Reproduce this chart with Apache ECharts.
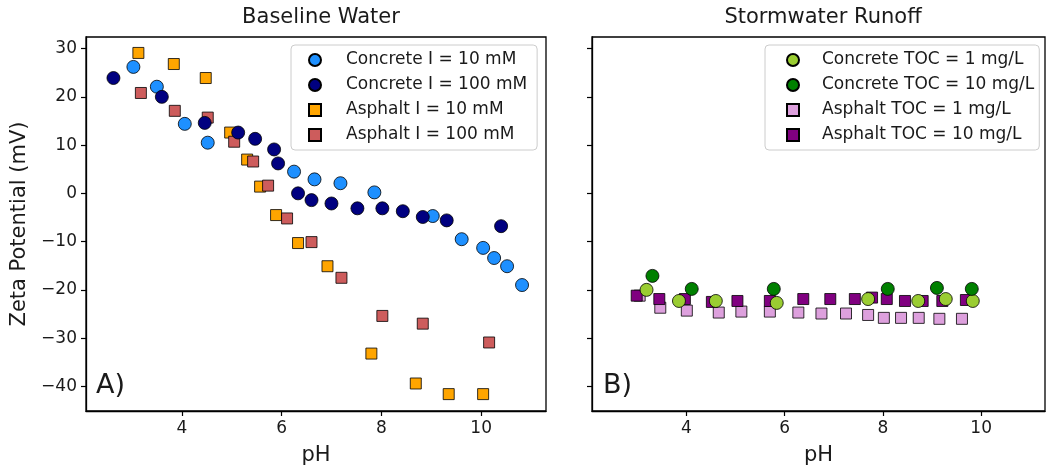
<!DOCTYPE html>
<html>
<head>
<meta charset="utf-8">
<script src="https://cdn.jsdelivr.net/npm/echarts@6/dist/echarts.min.js"></script>
<style>
  html, body { margin: 0; padding: 0; background: #fff; }
  #chart { width: 1047px; height: 471px; }
</style>
</head>
<body>
<div id="chart"></div>
<script>
  // panel A - baseline water, [pH, zeta mV]
  const concreteI10 = [[3.03,26.2],[3.50,22.1],[4.06,14.4],[4.52,10.5],[6.25,4.5],[6.66,2.9],[7.18,2.1],[7.86,0.2],
    [9.03,-4.7],[9.61,-9.5],[10.04,-11.3],[10.26,-13.4],[10.52,-15.1],[10.82,-19.0]];
  const concreteI100 = [[2.63,23.9],[3.60,20.0],[4.46,14.6],[5.13,12.6],[5.47,11.3],[5.85,9.1],[5.93,6.2],[6.33,0.0],
    [6.60,-1.4],[7.00,-2.1],[7.52,-3.1],[8.02,-3.1],[8.43,-3.7],[8.83,-4.9],[9.31,-5.6],[10.40,-6.8]];
  const asphaltI10 = [[3.13,29.1],[3.84,26.8],[4.48,23.9],[4.97,12.6],[5.31,7.0],[5.57,1.4],[5.89,-4.5],[6.33,-10.3],
    [6.92,-15.1],[7.80,-33.2],[8.69,-39.4],[9.35,-41.6],[10.04,-41.6]];
  const asphaltI100 = [[3.18,20.8],[3.86,17.1],[4.52,15.7],[5.05,10.7],[5.43,6.6],[5.73,1.6],[6.11,-5.2],[6.60,-10.1],
    [7.20,-17.5],[8.02,-25.4],[8.83,-27.0],[10.16,-30.9]];

  // panel B - stormwater runoff
  const concreteToc1 = [[3.19,-20.0],[3.85,-22.3],[4.60,-22.3],[5.84,-22.7],[7.70,-21.9],[8.72,-22.3],[9.28,-21.9],[9.83,-22.3]];
  const concreteToc10 = [[3.31,-17.1],[4.11,-19.8],[5.78,-19.8],[8.10,-19.8],[9.10,-19.6],[9.81,-19.8]];
  const asphaltToc1 = [[3.05,-21.2],[3.47,-23.7],[4.01,-24.3],[4.66,-24.7],[5.12,-24.5],[5.70,-24.5],[6.28,-24.7],[6.75,-24.9],
    [7.25,-24.9],[7.70,-25.2],[8.02,-25.8],[8.37,-25.8],[8.73,-25.8],[9.15,-26.0],[9.61,-26.0]];
  const asphaltToc10 = [[2.99,-21.2],[3.45,-21.9],[3.97,-21.9],[4.52,-22.5],[5.04,-22.3],[5.70,-22.3],[6.38,-21.9],[6.93,-21.9],
    [7.43,-21.9],[7.78,-21.6],[8.08,-21.9],[8.45,-22.3],[8.81,-22.3],[9.21,-22.3],[9.69,-22.1]];

  const namesA = ['Concrete I = 10 mM', 'Concrete I = 100 mM', 'Asphalt I = 10 mM', 'Asphalt I = 100 mM'];
  const namesB = ['Concrete TOC = 1 mg/L', 'Concrete TOC = 10 mg/L', 'Asphalt TOC = 1 mg/L', 'Asphalt TOC = 10 mg/L'];
  const xTicks = [4, 6, 8, 10];
  const yTicks = [-40, -30, -20, -10, 0, 10, 20, 30];

  const font = 'DejaVu Sans';
  const ink = '#1a1a1a';
  const minus = v => String(v).replace('-', '\u2212');

  function xAxisFor(idx) {
    return {
      gridIndex: idx, type: 'value', min: 2.08, max: 11.3,
      name: 'pH', nameLocation: 'middle', nameGap: 34,
      nameTextStyle: { fontFamily: font, fontSize: 21, color: ink },
      axisLine: { onZero: false, lineStyle: { color: '#000', width: 1.3 } },
      axisTick: { length: 5, lineStyle: { color: '#000', width: 1.2 }, customValues: xTicks },
      axisLabel: { fontFamily: font, fontSize: 17, color: ink, margin: 9, customValues: xTicks },
      splitLine: { show: false }
    };
  }
  function yAxisFor(idx, labels) {
    const ax = {
      gridIndex: idx, type: 'value', min: -45.1, max: 32.4,
      axisLine: { onZero: false, lineStyle: { color: '#000', width: 1.3 } },
      axisTick: { length: 5, lineStyle: { color: '#000', width: 1.2 }, customValues: yTicks },
      axisLabel: { show: labels, fontFamily: font, fontSize: 17, color: ink, margin: 9,
        customValues: yTicks, formatter: minus },
      splitLine: { show: false }
    };
    if (labels) {
      ax.name = 'Zeta Potential (mV)';
      ax.nameLocation = 'middle';
      ax.nameGap = 56;
      ax.nameTextStyle = { fontFamily: font, fontSize: 21, color: ink };
    }
    return ax;
  }
  function scatter(name, data, idx, symbol, color) {
    return {
      name: name, type: 'scatter', xAxisIndex: idx, yAxisIndex: idx, data: data,
      symbol: symbol, symbolSize: symbol === 'circle' ? 13 : 11,
      itemStyle: { color: color, opacity: 1, borderColor: '#000', borderWidth: 0.8 },
      emphasis: { disabled: true }
    };
  }
  function legendFor(names, left, padLeft, textPad, padRight) {
    return {
      data: names, orient: 'vertical', left: left, top: 45,
      itemWidth: 12, itemHeight: 12, itemGap: 8,
      padding: [6.5, padRight, 6.5, padLeft],
      backgroundColor: '#fff', borderColor: '#cccccc', borderWidth: 1, borderRadius: 4,
      textStyle: { fontFamily: font, fontSize: 17, color: ink, lineHeight: 17, padding: [0, 0, 0, textPad] }
    };
  }

  const chart = echarts.init(document.getElementById('chart'));
  chart.setOption({
    animation: false,
    title: [
      { text: 'Baseline Water', left: 316, top: 2, textAlign: 'center',
        textStyle: { fontFamily: font, fontSize: 21, fontWeight: 'normal', color: ink } },
      { text: 'Stormwater Runoff', left: 818, top: 2, textAlign: 'center',
        textStyle: { fontFamily: font, fontSize: 21, fontWeight: 'normal', color: ink } }
    ],
    grid: [
      { left: 86, top: 37, width: 460, height: 376, show: true, borderColor: '#000', borderWidth: 1.3 },
      { left: 592, top: 37, width: 453, height: 376, show: true, borderColor: '#000', borderWidth: 1.3 }
    ],
    xAxis: [xAxisFor(0), xAxisFor(1)],
    yAxis: [yAxisFor(0, true), yAxisFor(1, false)],
    legend: [legendFor(namesA, 291, 17, 20, 10), legendFor(namesB, 765, 21, 18, 5)],
    graphic: [
      { type: 'text', left: 96, top: 372, style: { text: 'A)', fontFamily: font, fontSize: 27, fill: ink } },
      { type: 'text', left: 603, top: 372, style: { text: 'B)', fontFamily: font, fontSize: 27, fill: ink } }
    ],
    series: [
      scatter(namesA[2], asphaltI10, 0, 'rect', '#ffa500'),
      scatter(namesA[3], asphaltI100, 0, 'rect', '#cd5c5c'),
      scatter(namesA[0], concreteI10, 0, 'circle', '#1e90ff'),
      scatter(namesA[1], concreteI100, 0, 'circle', '#000080'),
      scatter(namesB[2], asphaltToc1, 1, 'rect', '#dda0dd'),
      scatter(namesB[3], asphaltToc10, 1, 'rect', '#800080'),
      scatter(namesB[0], concreteToc1, 1, 'circle', '#9acd32'),
      scatter(namesB[1], concreteToc10, 1, 'circle', '#008000')
    ]
  });
</script>
</body>
</html>
